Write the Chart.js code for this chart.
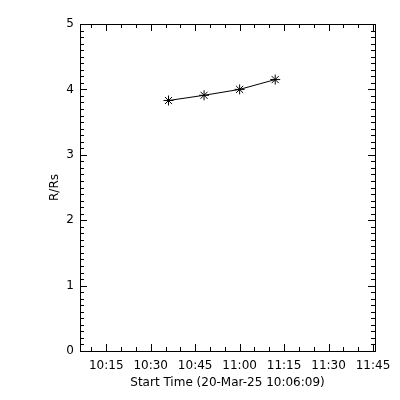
<!DOCTYPE html>
<html>
<head>
<meta charset="utf-8">
<script src="https://cdn.jsdelivr.net/npm/chart.js@4.4.1/dist/chart.umd.min.js"></script>
<style>
  html, body { margin: 0; padding: 0; background: #fff; }
  #wrap { width: 400px; height: 400px; }
</style>
</head>
<body>
<div id="wrap"><canvas id="chart" width="400" height="400"></canvas></div>
<script>
// data
const startTime = "10:06:09";
const endTime = "11:45:40";
const times = ["10:36:00", "10:48:00", "11:00:00", "11:12:00"];
const heights = [3.83, 3.91, 4.00, 4.15];
const xTickLabels = ["10:15", "10:30", "10:45", "11:00", "11:15", "11:30", "11:45"];
const yTicks = [0, 1, 2, 3, 4, 5];

// seconds since 10:00:00
function toSec(t) {
    const p = t.split(":").map(Number);
    return (p[0] - 10) * 3600 + p[1] * 60 + (p[2] || 0);
}
function fmt(s) {
    const h = 10 + Math.floor(s / 3600);
    const m = Math.round((s % 3600) / 60);
    return h + ":" + String(m).padStart(2, "0");
}

const points = times.map((t, i) => ({ x: toSec(t), y: heights[i] }));
const xMajor = xTickLabels.map(toSec);

// IDL style frame with ticks pointing inwards on all four sides
const framePlugin = {
    id: "frame",
    afterDraw(chart) {
        const ctx = chart.ctx;
        const a = chart.chartArea;
        const xs = chart.scales.x;
        const ys = chart.scales.y;
        ctx.save();
        ctx.strokeStyle = "#000";
        ctx.lineWidth = 1;
        ctx.strokeRect(a.left + 0.5, a.top + 0.5, a.right - a.left, a.bottom - a.top);
        ctx.beginPath();
        for (let s = toSec("10:10"); s <= xs.max; s += 300) {
            const px = Math.round(xs.getPixelForValue(s)) + 0.5;
            const len = (s % 900 === 0) ? 7 : 4;
            ctx.moveTo(px, a.bottom);
            ctx.lineTo(px, a.bottom - len);
            ctx.moveTo(px, a.top);
            ctx.lineTo(px, a.top + len);
        }
        for (let i = 0; i <= 50; i++) {
            const py = Math.round(ys.getPixelForValue(i / 10)) + 0.5;
            const len = (i % 10 === 0) ? 7 : 4;
            ctx.moveTo(a.left, py);
            ctx.lineTo(a.left + len, py);
            ctx.moveTo(a.right, py);
            ctx.lineTo(a.right - len, py);
        }
        ctx.stroke();
        ctx.restore();
    }
};

new Chart(document.getElementById("chart").getContext("2d"), {
    type: "line",
    data: {
        datasets: [{
            data: points,
            borderColor: "#000",
            borderWidth: 1,
            pointStyle: "star",
            pointRadius: 5,
            pointBorderColor: "#000",
            pointBorderWidth: 1,
            pointBackgroundColor: "#000",
            tension: 0
        }]
    },
    options: {
        responsive: false,
        animation: false,
        layout: { padding: { top: 24, right: 25, bottom: 0, left: 0 } },
        plugins: {
            legend: { display: false },
            tooltip: { enabled: false }
        },
        scales: {
            x: {
                type: "linear",
                min: toSec(startTime),
                max: toSec(endTime),
                grid: { display: false, drawTicks: false },
                border: { display: false },
                afterBuildTicks: s => { s.ticks = xMajor.map(v => ({ value: v })); },
                afterFit: s => { s.height = 49; },
                ticks: {
                    autoSkip: false,
                    maxRotation: 0,
                    padding: 8,
                    color: "#000",
                    font: { family: "DejaVu Sans", size: 12 },
                    callback: v => fmt(v)
                },
                title: {
                    display: true,
                    text: "Start Time (20-Mar-" + "25 " + startTime + ")",
                    color: "#000",
                    font: { family: "DejaVu Sans", size: 12 },
                    padding: { top: 10, bottom: 10 }
                }
            },
            y: {
                min: 0,
                max: 5,
                grid: { display: false, drawTicks: false },
                border: { display: false },
                afterBuildTicks: s => { s.ticks = yTicks.map(v => ({ value: v })); },
                afterFit: s => { s.width = 80; },
                ticks: {
                    padding: 6,
                    color: "#000",
                    font: { family: "DejaVu Sans", size: 12 }
                },
                title: {
                    display: true,
                    text: "R/Rs",
                    color: "#000",
                    font: { family: "DejaVu Sans", size: 12 },
                    padding: { top: 48, bottom: 0 }
                }
            }
        }
    },
    plugins: [framePlugin]
});
</script>
</body>
</html>
